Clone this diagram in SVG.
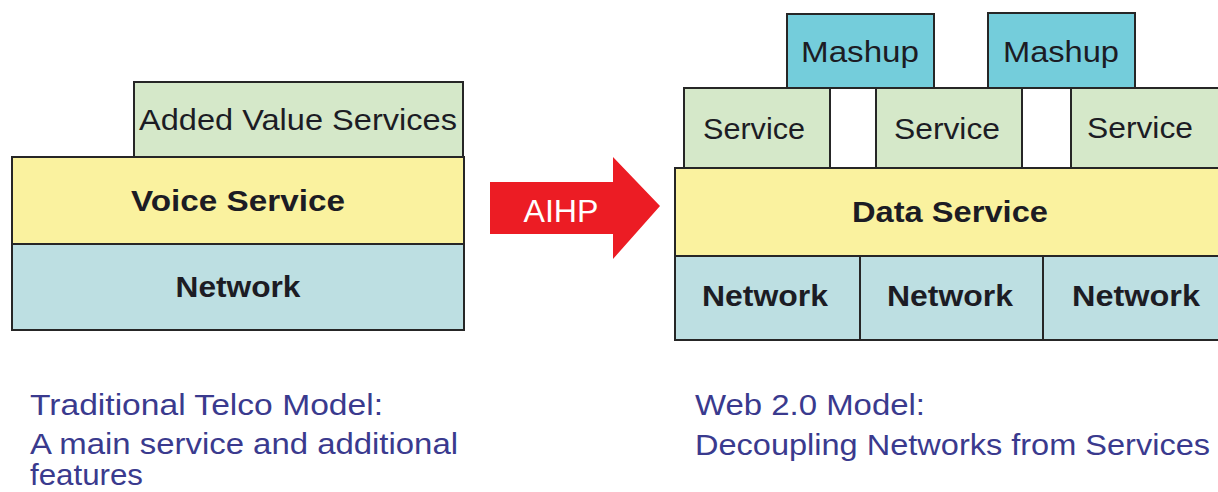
<svg xmlns="http://www.w3.org/2000/svg" width="1218" height="492" viewBox="0 0 1218 492">
  <style>
    .box { stroke: #262626; stroke-width: 2; }
    .green { fill: #d5e8c9; }
    .yellow { fill: #faf29f; }
    .blue { fill: #bddfe2; }
    .cyan { fill: #74cddb; }
    .lbl { font-family: "Liberation Sans", Arial, sans-serif; fill: #1c1c24; text-anchor: middle; }
    .reg { font-size: 30px; }
    .bold { font-size: 29px; font-weight: bold; }
    .cap { font-family: "Liberation Sans", Arial, sans-serif; font-size: 29px; fill: #3a3a8e; }
  </style>

  <!-- Traditional telco stack -->
  <g id="added-value-services">
    <rect class="box green" x="134" y="82" width="329" height="75"/>
    <text class="lbl reg" x="298" y="130" textLength="318" lengthAdjust="spacingAndGlyphs">Added Value Services</text>
  </g>
  <g id="voice-service">
    <rect class="box yellow" x="12" y="157" width="452" height="87"/>
    <text class="lbl bold" x="238" y="211" textLength="214" lengthAdjust="spacingAndGlyphs">Voice Service</text>
  </g>
  <g id="network-left">
    <rect class="box blue" x="12" y="244" width="452" height="86"/>
    <text class="lbl bold" x="238" y="297" textLength="125" lengthAdjust="spacingAndGlyphs">Network</text>
  </g>

  <!-- Transition arrow -->
  <g id="aihp-arrow">
    <polygon points="490,182 613,182 613,157 660,206 613,259 613,234 490,234" fill="#ec1c24"/>
    <text x="561" y="222" font-family="Liberation Sans, Arial, sans-serif" font-size="31" fill="#ffffff" text-anchor="middle" textLength="75" lengthAdjust="spacingAndGlyphs">AIHP</text>
  </g>

  <!-- Web 2.0 stack -->
  <g id="mashup-1">
    <rect class="box cyan" x="787" y="14" width="147" height="74"/>
    <text class="lbl reg" x="860" y="62" textLength="118" lengthAdjust="spacingAndGlyphs">Mashup</text>
  </g>
  <g id="mashup-2">
    <rect class="box cyan" x="988" y="13" width="147" height="75"/>
    <text class="lbl reg" x="1061" y="62" textLength="116" lengthAdjust="spacingAndGlyphs">Mashup</text>
  </g>
  <g id="service-1">
    <rect class="box green" x="684" y="88" width="146" height="80"/>
    <text class="lbl reg" x="754" y="139" textLength="102" lengthAdjust="spacingAndGlyphs">Service</text>
  </g>
  <g id="service-2">
    <rect class="box green" x="876" y="88" width="146" height="80"/>
    <text class="lbl reg" x="947" y="139" textLength="106" lengthAdjust="spacingAndGlyphs">Service</text>
  </g>
  <g id="service-3">
    <rect class="box green" x="1071" y="88" width="160" height="80"/>
    <text class="lbl reg" x="1140" y="138" textLength="106" lengthAdjust="spacingAndGlyphs">Service</text>
  </g>
  <g id="data-service">
    <rect class="box yellow" x="675" y="168" width="556" height="88"/>
    <text class="lbl bold" x="950" y="222" textLength="196" lengthAdjust="spacingAndGlyphs">Data Service</text>
  </g>
  <g id="network-1">
    <rect class="box blue" x="675" y="256" width="185" height="84"/>
    <text class="lbl bold" x="765" y="306" textLength="126" lengthAdjust="spacingAndGlyphs">Network</text>
  </g>
  <g id="network-2">
    <rect class="box blue" x="860" y="256" width="183" height="84"/>
    <text class="lbl bold" x="950" y="306" textLength="126" lengthAdjust="spacingAndGlyphs">Network</text>
  </g>
  <g id="network-3">
    <rect class="box blue" x="1043" y="256" width="188" height="84"/>
    <text class="lbl bold" x="1136" y="306" textLength="128" lengthAdjust="spacingAndGlyphs">Network</text>
  </g>

  <g id="connectors"></g>

  <!-- Captions -->
  <g id="caption-left">
    <text class="cap" x="30" y="415" textLength="353" lengthAdjust="spacingAndGlyphs">Traditional Telco Model:</text>
    <text class="cap" x="30" y="454" textLength="428" lengthAdjust="spacingAndGlyphs">A main service and additional</text>
    <text class="cap" x="30" y="485" font-size="28" textLength="113" lengthAdjust="spacingAndGlyphs">features</text>
  </g>
  <g id="caption-right">
    <text class="cap" x="695" y="415" textLength="230" lengthAdjust="spacingAndGlyphs">Web 2.0 Model:</text>
    <text class="cap" x="695" y="455" textLength="515" lengthAdjust="spacingAndGlyphs">Decoupling Networks from Services</text>
  </g>
</svg>
